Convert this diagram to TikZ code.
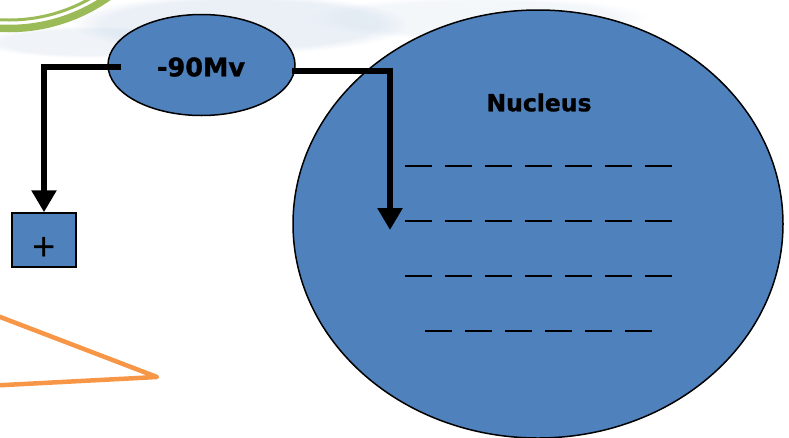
\documentclass[tikz,border=0pt]{standalone}
\usepackage{fontspec}
\setmainfont{Liberation Sans}
\newfontfamily\dvs[BoldFeatures={FakeBold=1.2}]{DejaVu Sans}
\usetikzlibrary{shapes.geometric,arrows.meta,fadings}
\definecolor{cellblue}{HTML}{4F81BD}
\definecolor{orng}{HTML}{F79646}
\definecolor{grn}{HTML}{9BBB59}
\definecolor{haze}{HTML}{C4D4E6}
\begin{document}
\begin{tikzpicture}[x=1pt,y=-1pt,
  blob/.style={fill=cellblue,draw=black,line width=1.5pt},
  conn/.style={line width=6.5pt},
  tipped/.style={-{Triangle[width=24pt,length=22pt]}},
  dashrow/.style={line width=2.5pt,dash pattern=on 27pt off 13pt},
  bigtext/.style={text=black, inner sep=0pt},
]
\useasboundingbox (0,0) rectangle (789,437);
\begin{scope}
\clip (0,0) rectangle (789,437);
% faint background haze
\fill[haze,opacity=0.35,path fading=circle with fuzzy edge 20 percent] (240,24) ellipse [x radius=170,y radius=30];
\fill[haze,opacity=0.18,path fading=circle with fuzzy edge 20 percent] (480,18) ellipse [x radius=170,y radius=22];
\fill[haze,opacity=0.25,path fading=circle with fuzzy edge 20 percent] (90,42) ellipse [x radius=110,y radius=16];
% green arc in the corner
\fill[white] (9,-144) circle [radius=163];
\draw[grn,line width=7.5pt] (9,-144) circle [radius=172.5];
\draw[grn,line width=3pt] (9,-144) circle [radius=164];
\end{scope}
% orange triangle
\draw[orng,line width=4.5pt,line join=round,line cap=round] (-5,315) -- (157,377) -- (-5,385.5);
% shapes
\node[blob,ellipse,minimum width=490pt,minimum height=428pt,inner sep=0pt] (nucleus) at (538,224) {};
\node[blob,ellipse,minimum width=187pt,minimum height=101pt,inner sep=0pt] (mv) at (201.5,65) {};
\node[bigtext,font=\dvs\bfseries\fontsize{25.5}{28}\selectfont] (mvlabel) at (201,67) {-90Mv};
\node[blob,rectangle,minimum width=64pt,minimum height=54pt,inner sep=0pt] (plus) at (44,240) {};
\node[inner sep=0pt,font=\fontsize{40}{40}\selectfont] (plussign) at (44,248.5) {+};
\node[bigtext,font=\dvs\bfseries\fontsize{23.5}{26}\selectfont] (nuclabel) at (539,102.5) {Nucleus};
% dashed rows
\coordinate (r1a) at (405,166); \coordinate (r1b) at (672,166);
\coordinate (r2a) at (405,221); \coordinate (r2b) at (672,221);
\coordinate (r3a) at (405,276); \coordinate (r3b) at (672,276);
\coordinate (r4a) at (425,331); \coordinate (r4b) at (652,331);
\draw[dashrow] (r1a) -- (r1b);
\draw[dashrow] (r2a) -- (r2b);
\draw[dashrow] (r3a) -- (r3b);
\draw[dashrow] (r4a) -- (r4b);
% connectors
\coordinate (mvL) at (121,67);
\coordinate (mvR) at (292,71);
\coordinate (nucIn) at (390,230);
\draw[conn,tipped] (mvL) -| (plus.north);
\draw[conn,tipped] (mvR) -| (nucIn);
\end{tikzpicture}
\end{document}
